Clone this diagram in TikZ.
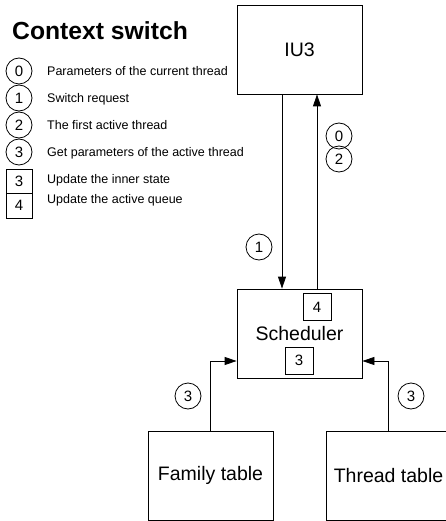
\documentclass[tikz,border=0pt]{standalone}
\usepackage{fontspec}
\setmainfont{Liberation Sans}
\usetikzlibrary{arrows.meta}
\begin{document}
\begin{tikzpicture}[x=1pt,y=-1pt,
  block/.style={draw,line width=0.8pt,minimum width=125pt,minimum height=89pt,inner sep=0pt,font=\fontsize{19.5}{22}\selectfont},
  circ/.style={draw,circle,line width=0.8pt,minimum size=26pt,inner sep=0pt,font=\fontsize{15}{17}\selectfont},
  sq/.style={draw,line width=0.8pt,minimum width=28pt,minimum height=27pt,inner sep=0pt,font=\fontsize{15}{17}\selectfont},
  legsq/.style={draw,line width=0.8pt,minimum width=26pt,inner sep=0pt,font=\fontsize{15}{17}\selectfont},
  legtext/.style={anchor=base west,inner sep=0pt,font=\fontsize{12.5}{14}\selectfont},
  arr/.style={line width=0.8pt,-{Triangle[length=12pt,width=8pt]}},
  conn/.style={line width=0.8pt}]
\useasboundingbox (0,0) rectangle (446,521);
% title
\node[anchor=base west,inner sep=0pt,font=\fontsize{24.7}{28}\selectfont\bfseries] (title) at (12,40) {Context switch};
% legend
\node[circ] (l0) at (19,71) {0};
\node[circ] (l1) at (19,98) {1};
\node[circ] (l2) at (19,125) {2};
\node[circ] (l3) at (19,152) {3};
\node[legsq,minimum height=24pt] (ls3) at (19,181) {3};
\node[legsq,minimum height=25pt] (ls4) at (19,205.5) {4};
\node[legtext] (t0) at (47,75.5) {Parameters of the current thread};
\node[legtext] (t1) at (47,102.5) {Switch request};
\node[legtext] (t2) at (47,129.5) {The first active thread};
\node[legtext] (t3) at (47,156.5) {Get parameters of the active thread};
\node[legtext] (t4) at (47,183.5) {Update the inner state};
\node[legtext] (t5) at (47,203.5) {Update the active queue};
% blocks
\node[block] (iu3) at (299.5,49.5) {IU3};
\node[block] (sched) at (299.5,333.5) {Scheduler};
\node[block] (fam) at (210.5,475.5) {Family table};
\node[block] (thr) at (388.5,475.5) {Thread table};
% boxes in scheduler
\node[sq] (b4) at (317,307) {4};
\node[sq] (b3) at (299,360.5) {3};
% connectors
\draw[arr] ([xshift=-17.5pt]iu3.south) -- ([xshift=-17.5pt]sched.north);
\draw[arr] ([xshift=17.5pt]sched.north) -- ([xshift=17.5pt]iu3.south);
\draw[arr] (fam.north) |- ([yshift=-27.5pt]sched.west);
\draw[arr] (thr.north) |- ([yshift=-27.5pt]sched.east);
% labels
\node[circ] (c1) at (259,247) {1};
\node[circ] (c0) at (339,136) {0};
\node[circ] (c2) at (339,159) {2};
\node[circ] (c3l) at (188,396) {3};
\node[circ] (c3r) at (411,396) {3};
\end{tikzpicture}
\end{document}
